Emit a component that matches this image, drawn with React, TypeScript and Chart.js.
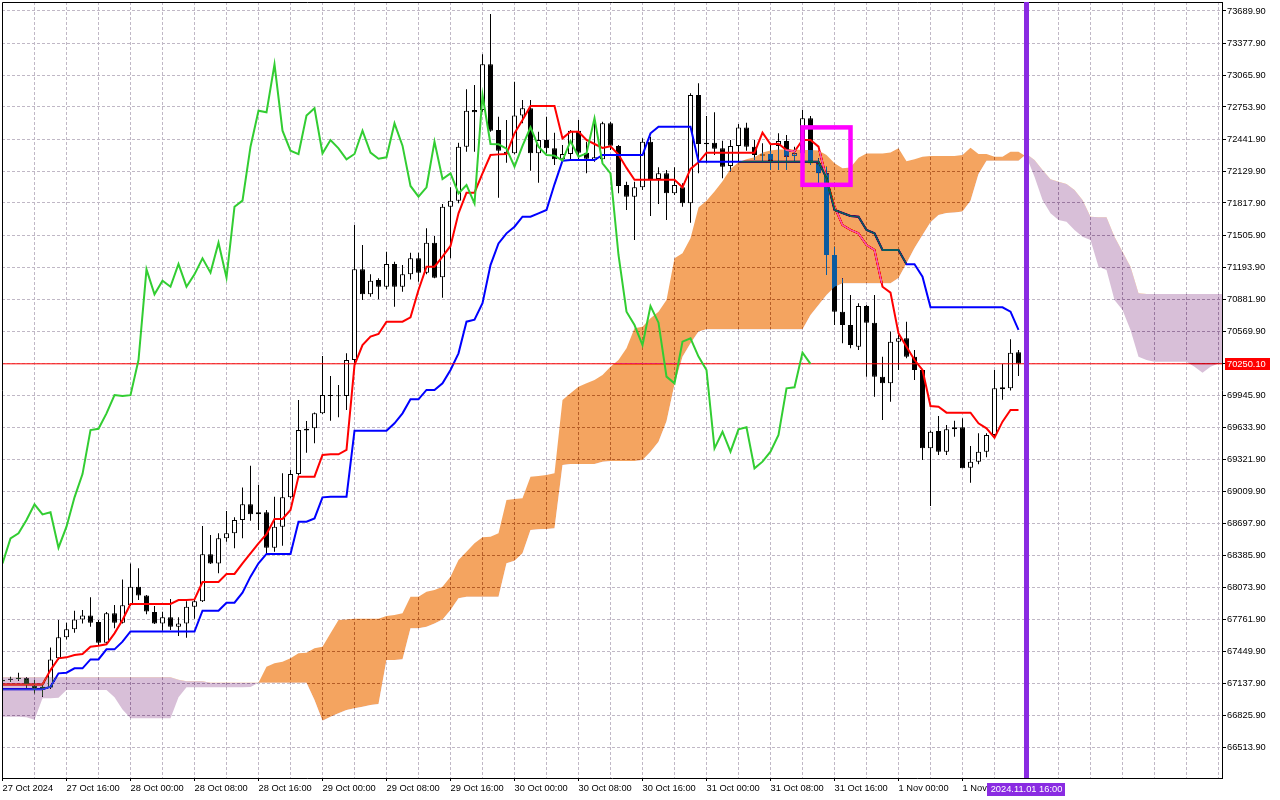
import React, { useEffect, useRef } from "react";
import { Chart, registerables } from "chart.js";

Chart.register(...registerables);

// ---------- data (hourly bars, index 0 = 27 Oct 2024 08:00) ----------
const xLabels = [
  "27 Oct 2024", "27 Oct 16:00", "28 Oct 00:00", "28 Oct 08:00", "28 Oct 16:00",
  "29 Oct 00:00", "29 Oct 08:00", "29 Oct 16:00", "30 Oct 00:00", "30 Oct 08:00",
  "30 Oct 16:00", "31 Oct 00:00", "31 Oct 08:00", "31 Oct 16:00", "1 Nov 00:00", "1 Nov 08:00",
];
const labelEvery = 8;
const gridEvery = 4;

const yTicks = [
  66513.9, 66825.9, 67137.9, 67449.9, 67761.9, 68073.9, 68385.9, 68697.9, 69009.9, 69321.9,
  69633.9, 69945.9, 70257.9, 70569.9, 70881.9, 71193.9, 71505.9, 71817.9, 72129.9, 72441.9,
  72753.9, 73065.9, 73377.9, 73689.9,
];

const opens = [
  67156, 67170, 67178, 67183, 67108, 67082, 67095, 67378, 67583, 67661,
  67758, 67797, 67732, 67531, 67817, 67726, 67895, 68077, 67992, 67830,
  67719, 67778, 67687, 67719, 67882, 67934, 68392, 68304, 68548, 68597,
  68727, 68880, 68782, 68802, 68457, 68662, 68948, 69175, 69600, 69621,
  69767, 69946, 69934, 69936, 70287, 71171, 70927, 71067, 71002, 71223,
  71002, 71122, 71278, 71139, 71431, 71093, 71782, 71841, 72367, 72725,
  72725, 73170, 72530, 72318, 72302, 72670, 72741, 72302, 72432, 72351,
  72244, 72296, 72523, 72309, 72237, 72244, 72595, 72374, 71993, 71880,
  71971, 72416, 72052, 72107, 71912, 71971, 71815, 72871, 72406, 72406,
  72351, 72179, 72374, 72555, 72367, 72290, 72296, 72374, 72422, 72276,
  72302, 72643, 72205, 72107, 71311, 70758, 70628, 70417, 70813, 70651,
  70125, 70060, 70466, 70499, 70320, 70190, 69426, 69595, 69393, 69611,
  69631, 69237, 69296, 69393, 69556, 70001, 70011, 70362,
];
const highs = [
  67175, 67199, 67238, 67193, 67167, 67134, 67485, 67752, 67726, 67843,
  67849, 67973, 67752, 67830, 67898, 68148, 68304, 68256, 67996, 67888,
  67833, 67957, 67778, 67934, 67947, 68668, 68581, 68597, 68815, 68753,
  69045, 69257, 69068, 68824, 68954, 69182, 69214, 69897, 69692, 69775,
  70326, 70131, 70043, 70352, 71603, 71408, 71122, 71083, 71343, 71246,
  71213, 71334, 71334, 71571, 71496, 71808, 71971, 72406, 72926, 72968,
  73267, 73661, 72660, 72627, 73001, 72822, 72822, 72513, 72660, 72504,
  72383, 72530, 72627, 72416, 72643, 72611, 72611, 72383, 72026, 72026,
  72448, 72465, 72166, 72140, 72166, 72010, 72887, 72985, 72666, 72702,
  72425, 72432, 72588, 72601, 72432, 72400, 72383, 72497, 72481, 72367,
  72725, 72666, 72253, 72172, 71392, 71084, 70921, 70840, 70823, 70921,
  70320, 70564, 70531, 70661, 70385, 70200, 69600, 69741, 69653, 69696,
  69718, 69449, 69572, 69572, 70190, 70248, 70489, 70385,
];
const lows = [
  67150, 67147, 67160, 67090, 67037, 67004, 67082, 67362, 67563, 67628,
  67719, 67687, 67508, 67508, 67671, 67719, 67888, 67947, 67807, 67713,
  67648, 67654, 67596, 67580, 67765, 67927, 68298, 68207, 68516, 68451,
  68548, 68720, 68630, 68402, 68418, 68477, 68938, 69160, 69384, 69475,
  69760, 69696, 69728, 69800, 70238, 70872, 70905, 70879, 70976, 70807,
  70953, 71073, 71051, 71122, 71083, 70895, 71278, 71815, 72318, 72318,
  72708, 72513, 71870, 72211, 72292, 72595, 72133, 72016, 72300, 72188,
  72221, 72237, 72237, 72107, 72221, 72237, 72335, 71912, 71750, 71457,
  71944, 71691, 71808, 71652, 71896, 71782, 71626, 72107, 72205, 72286,
  72058, 72124, 72221, 72328, 72237, 72221, 72140, 72140, 72140, 72221,
  72290, 72188, 72010, 71116, 70628, 70450, 70401, 70385, 70125, 69930,
  69702, 69880, 70190, 70303, 70092, 69312, 68864, 69361, 69361, 69540,
  69231, 69091, 69270, 69338, 69540, 69900, 69990, 70131,
];
const closes = [
  67166, 67180, 67188, 67118, 67080, 67102, 67368, 67583, 67661, 67758,
  67797, 67726, 67531, 67817, 67726, 67895, 68077, 67992, 67836, 67719,
  67778, 67687, 67719, 67882, 67934, 68392, 68304, 68548, 68597, 68727,
  68880, 68782, 68802, 68457, 68662, 68948, 69175, 69604, 69617, 69767,
  69946, 69936, 69944, 70287, 71171, 70927, 71061, 71002, 71223, 71002,
  71122, 71278, 71139, 71431, 71090, 71782, 71841, 72367, 72718, 72702,
  73170, 72523, 72328, 72295, 72670, 72741, 72302, 72432, 72351, 72244,
  72296, 72523, 72309, 72250, 72263, 72595, 72377, 71984, 71880, 71971,
  72416, 72052, 72107, 71912, 71993, 71815, 72871, 72393, 72390, 72348,
  72172, 72374, 72555, 72367, 72286, 72280, 72231, 72422, 72270, 72302,
  72643, 72205, 72107, 71311, 70758, 70628, 70433, 70813, 70651, 70125,
  70060, 70466, 70499, 70320, 70190, 69426, 69588, 69393, 69611, 69631,
  69231, 69296, 69393, 69556, 70011, 70021, 70359, 70250.1,
];

// Tenkan-sen (red)
const tenkan = [
  67124, 67124, 67124, 67124, 67124, 67124, 67264, 67378, 67388, 67411,
  67420, 67492, 67502, 67515, 67622, 67752, 67908, 67908, 67908, 67908,
  67908, 67908, 67947, 67947, 67953, 68122, 68122, 68122, 68201, 68201,
  68305, 68402, 68500, 68590, 68737, 68737, 68825, 69150, 69150, 69150,
  69361, 69367, 69367, 69410, 70238, 70433, 70515, 70541, 70661, 70661,
  70661, 70703, 70970, 71197, 71197, 71295, 71399, 71717, 71919, 71919,
  72107, 72286, 72292, 72295, 72497, 72627, 72764, 72764, 72764, 72764,
  72448, 72513, 72513, 72432, 72393, 72355, 72370, 72290, 72160, 72045,
  72045, 72045, 72045, 72045, 72045, 71971, 72150, 72215, 72309, 72309,
  72309, 72309, 72309, 72309, 72309, 72504, 72390, 72395, 72335, 72320,
  72432, 72432, 72367, 72050, 71782, 71603, 71555, 71522, 71408, 71360,
  71002, 70944, 70547, 70417, 70287, 70190, 69838, 69832, 69774, 69774,
  69774, 69774, 69670, 69621, 69530, 69686, 69800, 69800,
];

// Kijun-sen (blue)
const kijun = [
  67076, 67076, 67076, 67076, 67076, 67076, 67102, 67232, 67238, 67281,
  67281, 67368, 67368, 67466, 67466, 67541, 67640, 67640, 67640, 67640,
  67640, 67640, 67640, 67640, 67640, 67843, 67843, 67843, 67921, 67921,
  68019, 68175, 68305, 68396, 68396, 68396, 68396, 68711, 68711, 68743,
  68948, 68954, 68954, 68954, 69598, 69598, 69598, 69598, 69598, 69670,
  69767, 69904, 69904, 69995, 69995, 70060, 70190, 70352, 70661, 70680,
  70840, 71213, 71424, 71522, 71587, 71684, 71684, 71717, 71750, 72000,
  72230, 72237, 72237, 72237, 72237, 72286, 72286, 72286, 72286, 72286,
  72286, 72497, 72562, 72562, 72562, 72562, 72562, 72221, 72221, 72221,
  72221, 72221, 72221, 72221, 72221, 72221, 72221, 72221, 72221, 72221,
  72221, 72221, 72221, 72060, 71750, 71720, 71691, 71684, 71555, 71522,
  71360, 71360, 71360, 71220, 71220, 71100, 70801, 70801, 70801, 70801,
  70801, 70801, 70801, 70801, 70801, 70801, 70758, 70580,
];

// Chikou span (green), plotted from bar 0
const chikou = [
  68304, 68548, 68597, 68727, 68880, 68782, 68802, 68457, 68662, 68948,
  69175, 69604, 69617, 69767, 69946, 69936, 69944, 70287, 71171, 70927,
  71061, 71002, 71223, 71002, 71122, 71278, 71139, 71431, 71090, 71782,
  71841, 72367, 72718, 72702, 73170, 72523, 72328, 72295, 72670, 72741,
  72302, 72432, 72351, 72244, 72296, 72523, 72309, 72250, 72263, 72595,
  72377, 71984, 71880, 71971, 72416, 72052, 72107, 71912, 71993, 71815,
  72871, 72393, 72390, 72348, 72172, 72374, 72555, 72367, 72286, 72280,
  72231, 72422, 72270, 72302, 72643, 72205, 72107, 71311, 70758, 70628,
  70433, 70813, 70651, 70125, 70060, 70466, 70499, 70320, 70190, 69426,
  69588, 69393, 69611, 69631, 69231, 69296, 69393, 69556, 70011, 70021,
  70359, 70250.1,
];

// Senkou Span A / B (cloud), plotted from bar 0 up to bar 153
const spanA = [
  66810, 66810, 66810, 66805, 66780, 66990, 66990, 66995, 67070, 67070,
  67070, 67070, 67070, 67070, 67000, 66880, 66793, 66793, 66793, 66793,
  66793, 66793, 67000, 67096, 67096, 67096, 67096, 67096, 67096, 67096,
  67096, 67100, 67141, 67297, 67330, 67346, 67378, 67427, 67433, 67476,
  67492, 67622, 67752, 67758, 67765, 67765, 67765, 67765, 67791, 67800,
  67817, 67980, 67980, 68028, 68044, 68077, 68175, 68337, 68418, 68500,
  68558, 68565, 68597, 68922, 68932, 68938, 69150, 69156, 69166, 69182,
  69897, 69962, 70027, 70060, 70092, 70141, 70222, 70287, 70401, 70596,
  70612, 70693, 70758, 70872, 71278, 71327, 71475, 71775, 71840, 71930,
  72030, 72150, 72215, 72245, 72265, 72310, 72330, 72340, 72340, 72340,
  72335, 72334, 72330, 72286, 72205, 72156, 72165, 72258, 72300, 72300,
  72300, 72310, 72351, 72225, 72244, 72270, 72276, 72276, 72276, 72276,
  72286, 72357, 72296, 72296, 72270, 72270, 72318, 72318, 72270, 72075,
  71847, 71717, 71652, 71636, 71554, 71490, 71457, 71197, 71164, 70872,
  70775, 70580, 70319, 70287, 70271, 70271, 70271, 70271, 70271, 70222,
  70163, 70222, 70254, 70254,
];
const spanB = [
  67193, 67193, 67193, 67193, 67193, 67193, 67193, 67193, 67193, 67193,
  67193, 67193, 67193, 67193, 67193, 67193, 67193, 67193, 67193, 67193,
  67193, 67193, 67170, 67154, 67154, 67154, 67141, 67141, 67141, 67141,
  67141, 67141, 67141, 67141, 67141, 67141, 67141, 67141, 67141, 66972,
  66771, 66810, 66842, 66875, 66891, 66907, 66923, 66933, 67362, 67362,
  67369, 67671, 67671, 67687, 67719, 67758, 67850, 67963, 67980, 67980,
  67980, 67980, 67980, 68305, 68331, 68402, 68630, 68636, 68639, 68646,
  69263, 69273, 69273, 69273, 69273, 69296, 69302, 69302, 69302, 69302,
  69312, 69393, 69491, 69690, 70050, 70320, 70450, 70564, 70586, 70586,
  70586, 70586, 70586, 70586, 70586, 70586, 70586, 70586, 70586, 70586,
  70586, 70726, 70823, 70920, 71000, 71035, 71035, 71035, 71035, 71035,
  71035, 71035, 71087, 71230, 71379, 71506, 71630, 71700, 71720, 71725,
  71735, 71840, 72100, 72231, 72231, 72231, 72231, 72231, 72296, 72237,
  72140, 72049, 72026, 72003, 71944, 71847, 71685, 71678, 71678, 71490,
  71343, 71197, 70937, 70931, 70931, 70931, 70931, 70931, 70931, 70931,
  70931, 70931, 70931, 70931,
];

const lastPrice = 70250.1;
const currentBar = 128;
const currentTimeLabel = "2024.11.01 16:00";
const markerFrom = 100;
const markerTo = 106;
const markerHigh = 72555;
const markerLow = 71995;

// ---------- view ----------
const X_MIN = -0.0625;
const X_MAX = 152.4375;
const Y_MIN = 66211.65;
const Y_MAX = 73777.65;

const FONT = { family: "'Liberation Sans', Arial, sans-serif", size: 9.3 };
const GRID = "rgb(192,184,198)";
const ORANGE_DIFF = "rgb(11,91,159)"; // difference against white -> SandyBrown
const THISTLE_DIFF = "rgb(39,64,39)"; // difference against white -> Thistle

const pts = (arr: number[]) => arr.map((v, i) => ({ x: i, y: v }));

const zeroPadding = (scale: any) => {
  scale.paddingTop = 0;
  scale.paddingBottom = 0;
  scale.paddingLeft = 0;
  scale.paddingRight = 0;
};

const bgPlugin = {
  id: "bgWhite",
  beforeDraw(chart: any) {
    const { ctx, width, height } = chart;
    ctx.save();
    ctx.fillStyle = "#ffffff";
    ctx.fillRect(0, 0, width, height);
    ctx.restore();
  },
};

const blendPlugin = {
  id: "cloudBlend",
  afterDatasetDraw(chart: any, args: any) {
    const lbl = chart.data.datasets[args.index].label;
    if (lbl === "Senkou Span B") chart.ctx.globalCompositeOperation = "difference";
    else if (lbl === "Senkou Span A") chart.ctx.globalCompositeOperation = "source-over";
  },
};

const overlayPlugin = {
  id: "overlay",
  afterDatasetsDraw(chart: any) {
    const { ctx, chartArea: a, scales } = chart;
    const xs = scales.x;
    const ys = scales.y;
    ctx.save();
    ctx.globalCompositeOperation = "source-over";
    // frame top / left
    ctx.strokeStyle = "#000";
    ctx.lineWidth = 1;
    ctx.setLineDash([]);
    ctx.beginPath();
    ctx.moveTo(a.left + 0.5, a.bottom);
    ctx.lineTo(a.left + 0.5, a.top + 0.5);
    ctx.lineTo(a.right, a.top + 0.5);
    ctx.stroke();

    // current time vertical line
    const cx = xs.getPixelForValue(currentBar);
    ctx.fillStyle = "#8a2be2";
    ctx.fillRect(cx - 2.5, a.top, 5, a.bottom - a.top);

    // marker box
    const bx1 = xs.getPixelForValue(markerFrom);
    const bx2 = xs.getPixelForValue(markerTo);
    const by1 = ys.getPixelForValue(markerHigh);
    const by2 = ys.getPixelForValue(markerLow);
    ctx.strokeStyle = "#ff00ff";
    ctx.lineWidth = 4.5;
    ctx.strokeRect(bx1, by1, bx2 - bx1, by2 - by1);

    // price label
    const py = ys.getPixelForValue(lastPrice);
    ctx.fillStyle = "#ff0000";
    ctx.fillRect(a.right + 3, Math.round(py) - 6, 45, 12);
    ctx.fillStyle = "#ffffff";
    ctx.font = `${FONT.size}px ${FONT.family}`;
    ctx.textBaseline = "middle";
    ctx.textAlign = "left";
    ctx.fillText(lastPrice.toFixed(2), a.right + 5, Math.round(py) + 0.5);

    // time label
    ctx.fillStyle = "#8a2be2";
    ctx.fillRect(cx - 39.5, a.bottom + 5, 78, 13);
    ctx.fillStyle = "#ffffff";
    ctx.textAlign = "center";
    ctx.fillText(currentTimeLabel, cx, a.bottom + 11.5);
    ctx.restore();
  },
};

export default function App() {
  const ref = useRef<HTMLCanvasElement>(null);

  useEffect(() => {
    if (!ref.current) return;
    const n = closes.length;
    const idx = Array.from({ length: n }, (_, i) => i);
    const wickData = idx.map((i) => ({ x: i, y: [lows[i], highs[i]] }));
    const bodyData = idx.map((i) => ({ x: i, y: [opens[i], closes[i]] }));
    const bodyColors = idx.map((i) => (closes[i] >= opens[i] ? "#ffffff" : "#000000"));
    const gridTicks: number[] = [];
    for (let v = 0; v <= X_MAX; v += gridEvery) gridTicks.push(v);
    const lastLabelBar = (xLabels.length - 1) * labelEvery;

    const chart = new Chart(ref.current, {
      type: "bar",
      data: {
        datasets: [
          {
            type: "bar",
            label: "wick",
            data: wickData as any,
            backgroundColor: "#000000",
            borderWidth: 0,
            barThickness: 1,
            grouped: false,
            inflateAmount: 0,
            order: 10,
          } as any,
          {
            type: "bar",
            label: "body",
            data: bodyData as any,
            backgroundColor: bodyColors,
            borderColor: "#000000",
            borderWidth: 1,
            borderSkipped: false,
            barThickness: 5,
            minBarLength: 1,
            grouped: false,
            inflateAmount: 0,
            order: 9,
          } as any,
          {
            type: "line",
            label: "Tenkan-sen",
            data: pts(tenkan),
            borderColor: "#ff0000",
            borderWidth: 2,
            pointRadius: 0,
            tension: 0,
            order: 8,
          },
          {
            type: "line",
            label: "Kijun-sen",
            data: pts(kijun),
            borderColor: "#0000ff",
            borderWidth: 2,
            pointRadius: 0,
            tension: 0,
            order: 7,
          },
          {
            type: "line",
            label: "price",
            data: [
              { x: X_MIN, y: lastPrice },
              { x: X_MAX, y: lastPrice },
            ],
            borderColor: "#ff0000",
            borderWidth: 1,
            pointRadius: 0,
            order: 6,
          },
          {
            type: "line",
            label: "Senkou Span B",
            data: pts(spanB),
            borderColor: "rgba(0,0,0,0)",
            borderWidth: 1,
            pointRadius: 0,
            tension: 0,
            fill: false,
            order: 5,
          },
          {
            type: "line",
            label: "Senkou Span A",
            data: pts(spanA),
            borderColor: "rgba(0,0,0,0)",
            borderWidth: 1,
            pointRadius: 0,
            tension: 0,
            fill: { target: 5, above: ORANGE_DIFF, below: THISTLE_DIFF },
            order: 4,
          } as any,
          {
            type: "line",
            label: "Chikou Span",
            data: pts(chikou),
            borderColor: "#32cd32",
            borderWidth: 2,
            pointRadius: 0,
            tension: 0,
            order: 3,
          },
        ],
      },
      options: {
        responsive: false,
        animation: false,
        events: [],
        layout: { padding: { left: 2, top: 2, right: 0, bottom: 0 } },
        plugins: {
          legend: { display: false },
          tooltip: { enabled: false },
        },
        scales: {
          x: {
            type: "linear",
            min: X_MIN,
            max: X_MAX,
            offset: false,
            position: "bottom",
            afterBuildTicks: (scale: any) => {
              scale.ticks = gridTicks.map((v) => ({ value: v }));
            },
            afterFit: (scale: any) => {
              scale.height = 22;
              zeroPadding(scale);
            },
            grid: {
              offset: false,
              color: GRID,
              lineWidth: 1,
              drawTicks: true,
              tickLength: 3,
              tickBorderDash: [],
              tickColor: (c: any) =>
                c.tick && c.tick.value % labelEvery === 0 && c.tick.value <= lastLabelBar
                  ? "#000000"
                  : "rgba(0,0,0,0)",
            },
            border: { display: true, color: "#000000", width: 1, dash: [3, 2] },
            ticks: {
              autoSkip: false,
              maxRotation: 0,
              minRotation: 0,
              align: "start",
              padding: 2,
              color: "#000000",
              font: FONT,
              callback: (value: any) => {
                const v = Number(value);
                if (v % labelEvery !== 0) return "";
                const k = v / labelEvery;
                return k < xLabels.length ? xLabels[k] : "";
              },
            },
          } as any,
          y: {
            type: "linear",
            position: "right",
            min: Y_MIN,
            max: Y_MAX,
            beginAtZero: false,
            afterBuildTicks: (scale: any) => {
              scale.ticks = yTicks.map((v) => ({ value: v }));
            },
            afterFit: (scale: any) => {
              scale.width = 58;
              zeroPadding(scale);
            },
            grid: {
              color: GRID,
              lineWidth: 1,
              drawTicks: true,
              tickLength: 4,
              tickBorderDash: [],
              tickColor: "#000000",
            },
            border: { display: true, color: "#000000", width: 1, dash: [3, 2] },
            ticks: {
              autoSkip: false,
              padding: 1,
              color: "#000000",
              font: FONT,
              callback: (value: any) => Number(value).toFixed(2),
            },
          } as any,
        },
      },
      plugins: [bgPlugin, blendPlugin, overlayPlugin],
    } as any);

    return () => chart.destroy();
  }, []);

  return (
    <div style={{ position: "absolute", left: 0, top: 0, width: 1280, height: 800, background: "#fff" }}>
      <canvas ref={ref} width={1280} height={800} style={{ display: "block", width: 1280, height: 800 }} />
    </div>
  );
}
